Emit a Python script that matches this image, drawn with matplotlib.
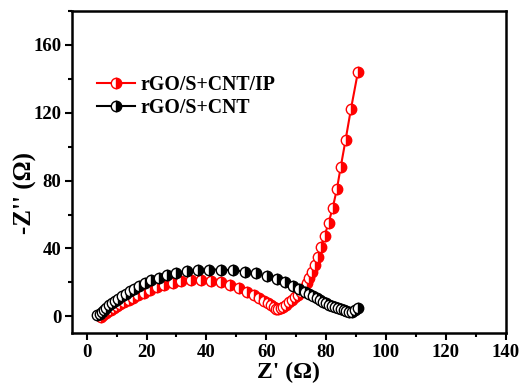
import matplotlib
matplotlib.use("Agg")
import matplotlib.pyplot as plt
from matplotlib.ticker import MultipleLocator

# Data
red_label = "rGO/S+CNT/IP"
red_x = [4.8, 5.5, 6.3, 7.1, 8.0, 9.0, 10.1, 11.3, 12.6, 14.0, 15.6, 17.3, 19.2, 21.3, 23.5,
         26.0, 28.7, 31.6, 34.8, 38.2, 41.6, 44.9, 48.0, 50.9, 53.5, 55.8, 57.7, 59.3, 60.6,
         61.7, 62.6, 63.3, 64.0, 64.8, 65.7, 66.6, 67.6, 68.6, 69.6, 70.6, 71.6, 72.6, 73.5,
         74.4, 75.3, 76.2, 77.2, 78.3, 79.5, 80.8, 82.2, 83.6, 84.9, 86.5, 88.3, 90.6]
red_y = [-0.3, 0.8, 1.9, 2.9, 3.9, 5.0, 6.1, 7.3, 8.5, 9.7, 11.0, 12.3, 13.9, 15.6, 17.1,
         18.5, 19.7, 20.6, 21.3, 21.5, 21.0, 20.0, 18.5, 16.6, 14.5, 12.8, 11.0, 9.3, 7.8,
         6.4, 5.3, 4.6, 4.4, 4.8, 5.7, 6.9, 8.2, 9.7, 11.2, 12.8, 14.6, 16.8, 19.4,
         22.4, 26.0, 30.2, 35.2, 41.0, 47.5, 55.0, 64.0, 75.0, 88.3, 104.0, 122.3, 143.8]

black_label = "rGO/S+CNT"
black_x = [3.6, 4.3, 5.0, 5.8, 6.6, 7.5, 8.4, 9.4, 10.5, 11.7, 13.0, 14.4, 15.9, 17.5, 19.4,
           21.6, 24.0, 26.8, 30.0, 33.5, 37.2, 41.0, 44.9, 48.9, 52.8, 56.6, 60.2, 63.5, 66.4,
           68.9, 71.0, 72.8, 74.3, 75.6, 76.8, 77.9, 78.9, 79.9, 80.9, 81.9, 82.9, 83.9, 84.9,
           85.9, 86.8, 87.7, 88.6, 89.5, 90.7]
black_y = [0.5, 1.6, 2.8, 4.0, 5.2, 6.5, 7.8, 9.1, 10.5, 11.9, 13.4, 14.9, 16.4, 18.0, 19.6,
           21.2, 22.7, 24.2, 25.5, 26.6, 27.3, 27.6, 27.6, 27.2, 26.4, 25.3, 23.9, 22.3, 20.0,
           18.0, 16.0, 14.4, 13.0, 11.8, 10.7, 9.7, 8.7, 7.8, 6.9, 6.1, 5.4, 4.7, 4.1,
           3.5, 3.0, 2.6, 2.8, 3.6, 4.9]

x_ticks = [0, 20, 40, 60, 80, 100, 120, 140]
y_ticks = [0, 40, 80, 120, 160]

plt.rcParams['font.family'] = ['Liberation Serif', 'DejaVu Serif']
plt.rcParams['font.weight'] = 'bold'

fig = plt.figure(figsize=(5.28, 3.85), dpi=100)
ax = fig.add_axes([0.1358, 0.1343, 0.822, 0.8371])

common = dict(marker='o', markersize=7.5, fillstyle='right', markerfacecoloralt='white',
              markeredgewidth=1.0, linewidth=1.5)
ax.plot(red_x, red_y, color='#ff0000', markerfacecolor='#ff0000', markeredgecolor='#ff0000',
        label=red_label, zorder=3, **common)
ax.plot(black_x, black_y, color='black', markerfacecolor='black', markeredgecolor='black',
        label=black_label, zorder=4, **common)

ax.set_xlim(-5, 140)
ax.set_ylim(-10, 180)
ax.set_xticks(x_ticks)
ax.set_yticks(y_ticks)
ax.xaxis.set_minor_locator(MultipleLocator(10))
ax.yaxis.set_minor_locator(MultipleLocator(20))
ax.tick_params(which='major', direction='out', length=5, width=1.5, labelsize=13.5, pad=2.5)
ax.tick_params(which='minor', direction='out', length=3, width=1.5)
for lab in ax.get_xticklabels() + ax.get_yticklabels():
    lab.set_fontweight('bold')
for s in ax.spines.values():
    s.set_linewidth(1.8)

ax.set_xlabel("Z' (Ω)", fontsize=17, fontweight='bold')
ax.xaxis.set_label_coords(0.5, -0.155)
ax.xaxis.label.set_va('bottom')
ax.set_ylabel("-Z'' (Ω)", fontsize=18, fontweight='bold')
ax.yaxis.set_label_coords(-0.08, 0.435)

leg = ax.legend(loc='upper left', bbox_to_anchor=(0.04, 0.825), frameon=False,
                prop={'size': 14.3, 'weight': 'bold'}, handlelength=1.9,
                handletextpad=0.3, labelspacing=0.15, borderaxespad=0)

fig.savefig("out.png", dpi=100, facecolor='white')
